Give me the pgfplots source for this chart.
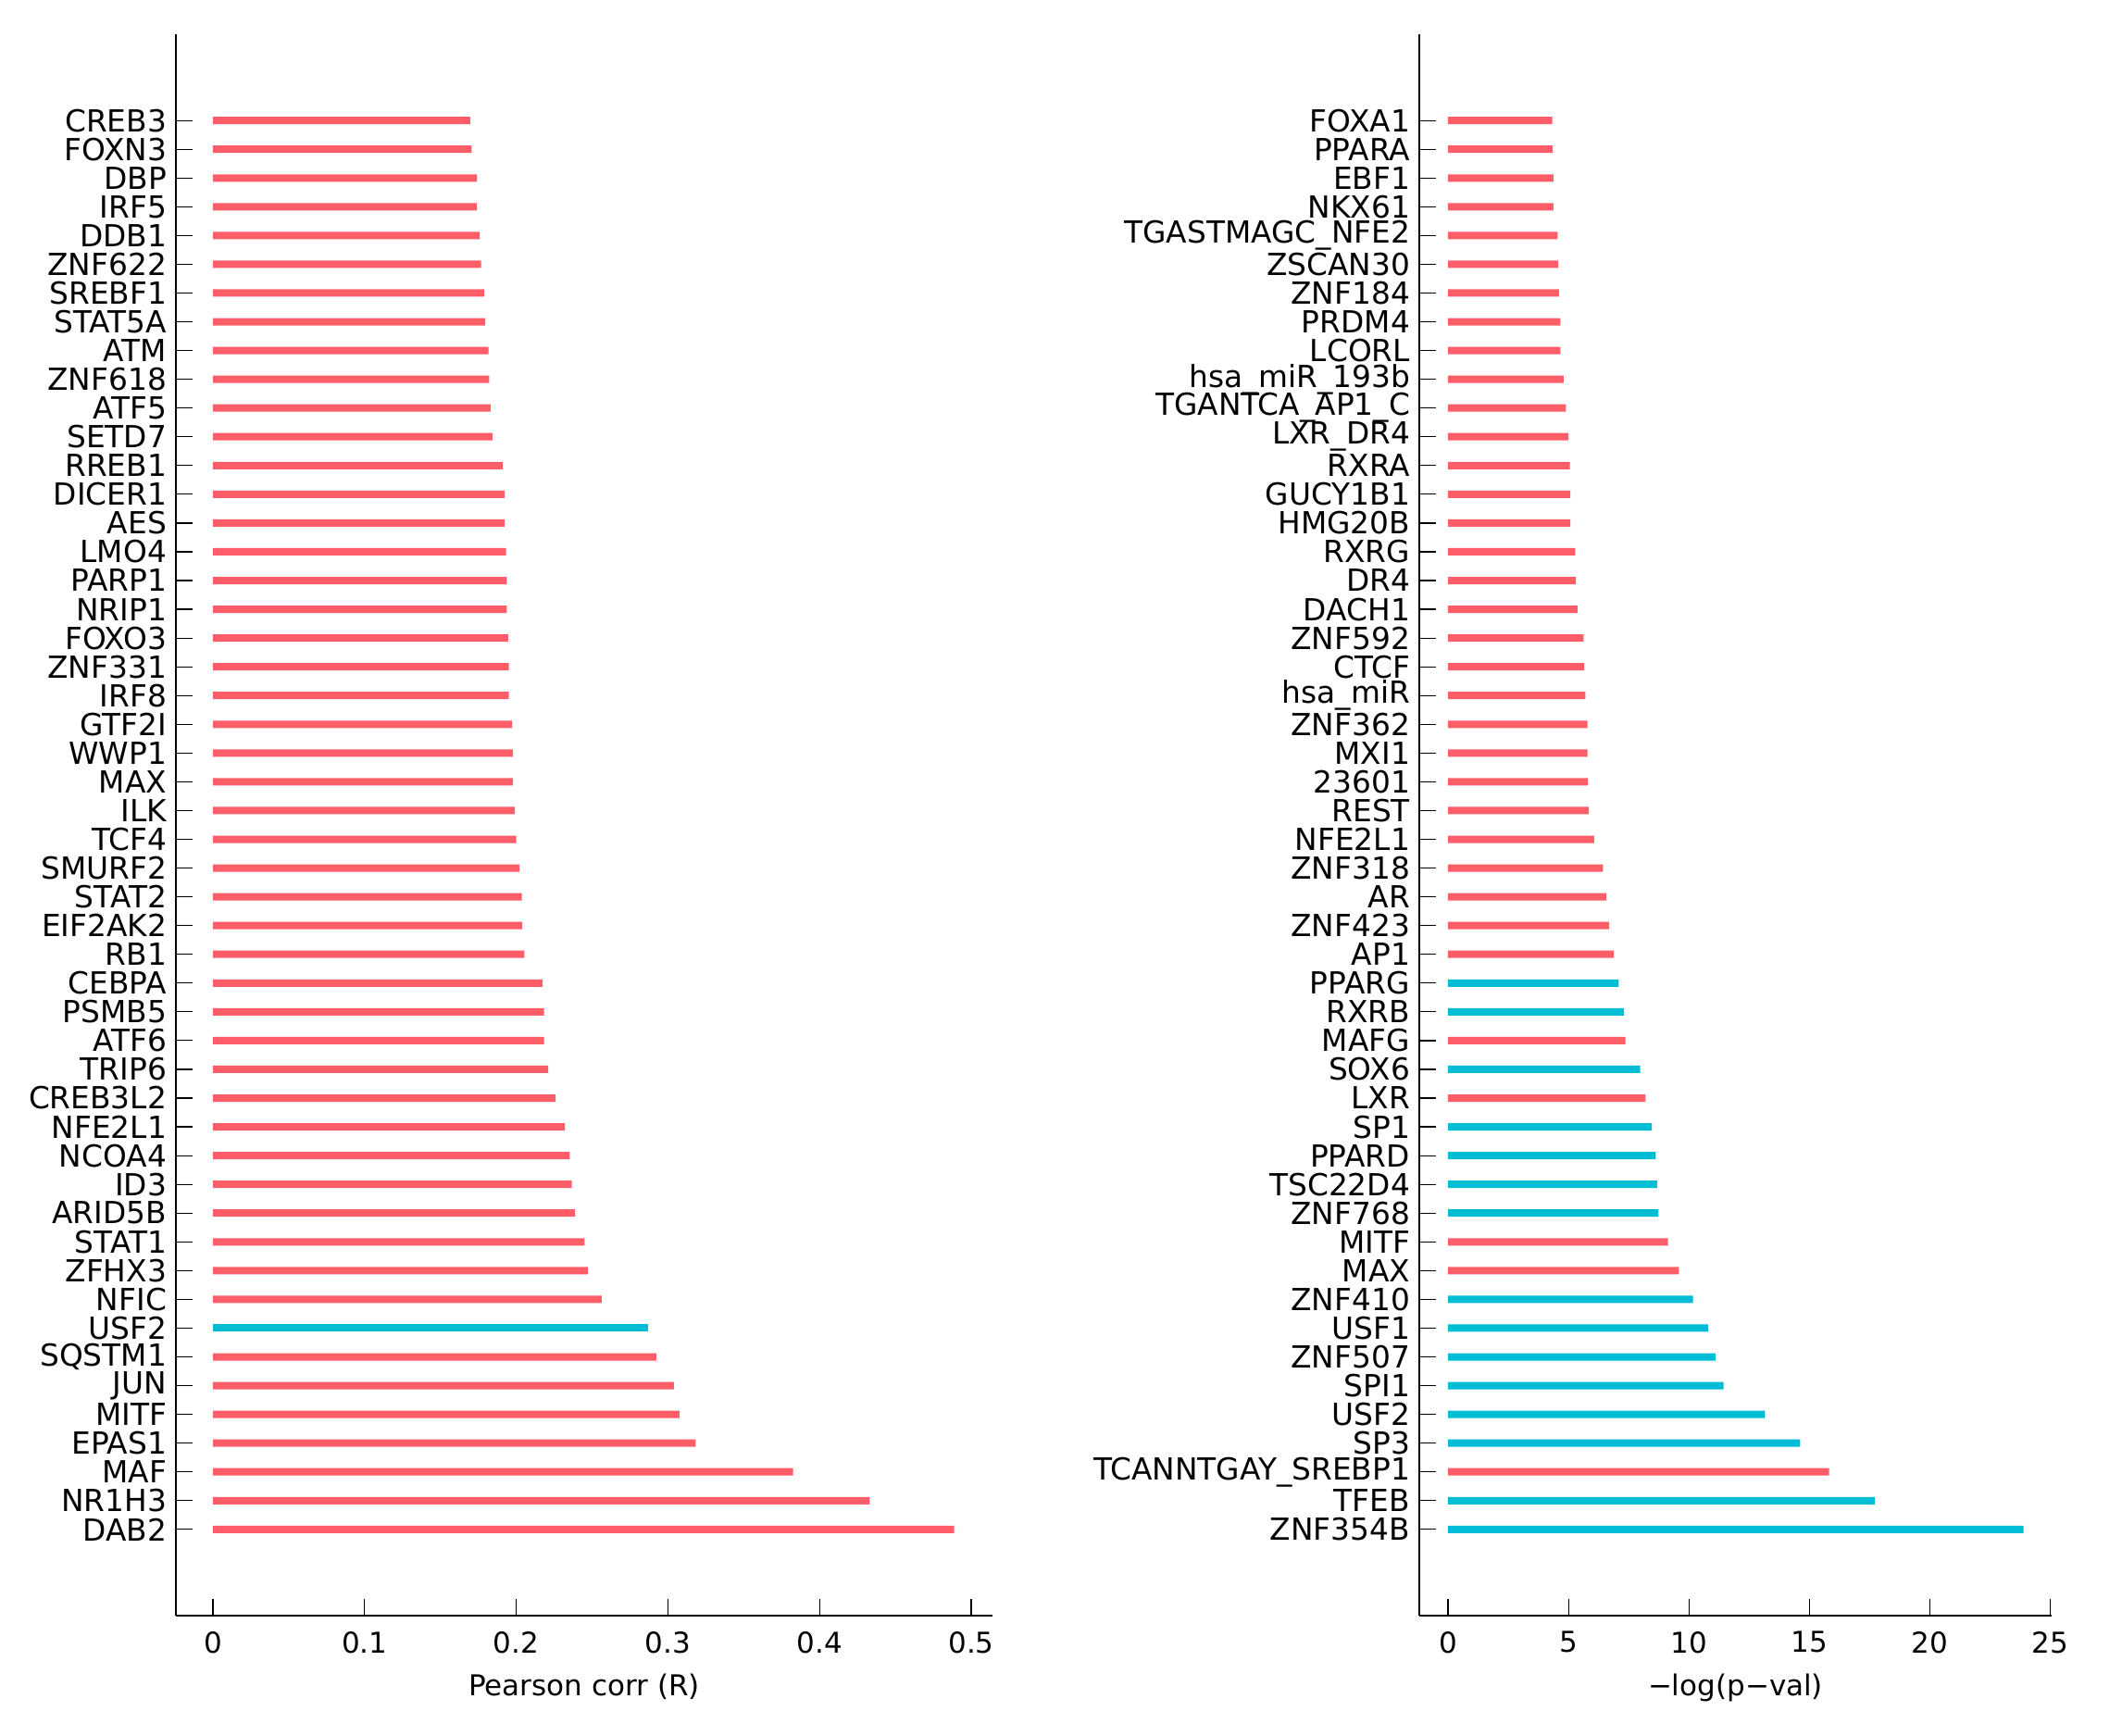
\documentclass[border=0pt]{standalone}
\usepackage{fontspec}
\setmainfont{DejaVu Sans}
\usepackage{pgfplots}
\pgfplotsset{compat=1.18}

\definecolor{barred}{RGB}{255,94,105}
\definecolor{barcyan}{RGB}{0,189,214}

\pgfplotsset{
  tfpanel/.style={
    scale only axis,
    height=854bp,
    ymin=-2, ymax=53,
    axis x line*=bottom,
    axis y line*=left,
    axis line style={line width=0.6bp},
    tick style={line width=0.6bp, black},
    tick align=inside,
    major tick length=9bp,
    ytick={1,...,50},
    /pgf/number format/assume math mode=true,
    xticklabel style={yshift=-5bp},
    yticklabel style={xshift=-1.5bp, font=\fontsize{16.4bp}{19bp}\selectfont},
    xlabel style={yshift=-4.5bp},
  },
  hbar/.style={xbar, bar width=4bp, bar shift=0pt, draw=none, fill=#1},
}

\begin{document}
\begin{tikzpicture}[font=\fontsize{15.5bp}{18bp}\selectfont]
\path[use as bounding box] (0,0) rectangle (1146bp,937.5bp);

% left panel: Pearson correlation
\begin{axis}[tfpanel,
  at={(95bp,65bp)}, anchor=south west,
  width=441bp,
  xmin=-0.0244, xmax=0.514,
  xtick={0,0.1,0.2,0.3,0.4,0.5},
  xlabel={Pearson corr (R)},
  yticklabels={DAB2,NR1H3,MAF,EPAS1,MITF,JUN,SQSTM1,USF2,NFIC,ZFHX3,STAT1,ARID5B,ID3,NCOA4,NFE2L1,CREB3L2,TRIP6,ATF6,PSMB5,CEBPA,RB1,EIF2AK2,STAT2,SMURF2,TCF4,ILK,MAX,WWP1,GTF2I,IRF8,ZNF331,FOXO3,NRIP1,PARP1,LMO4,AES,DICER1,RREB1,SETD7,ATF5,ZNF618,ATM,STAT5A,SREBF1,ZNF622,DDB1,IRF5,DBP,FOXN3,CREB3},
]
\addplot[hbar=barred] coordinates {
  (0.4888,1) (0.4330,2) (0.3826,3) (0.3183,4) (0.3076,5) (0.3040,6) (0.2924,7)
  (0.2563,9) (0.2473,10) (0.2451,11) (0.2388,12) (0.2366,13) (0.2353,14)
  (0.2321,15) (0.2259,16) (0.2210,17) (0.2183,18) (0.2183,19) (0.2174,20)
  (0.2054,21) (0.2040,22) (0.2036,23) (0.2022,24) (0.2000,25) (0.1991,26)
  (0.1978,27) (0.1978,28) (0.1973,29) (0.1951,30) (0.1951,31) (0.1946,32)
  (0.1938,33) (0.1938,34) (0.1933,35) (0.1924,36) (0.1924,37) (0.1911,38)
  (0.1844,39) (0.1830,40) (0.1821,41) (0.1817,42) (0.1795,43) (0.1790,44)
  (0.1768,45) (0.1759,46) (0.1741,47) (0.1741,48) (0.1705,49) (0.1696,50)
};
\addplot[hbar=barcyan] coordinates {(0.2871,8)};
\end{axis}

% right panel: enrichment p-values
\begin{axis}[tfpanel,
  at={(766.5bp,65bp)}, anchor=south west,
  width=341.5bp,
  xmin=-1.19, xmax=25.05,
  xtick={0,5,10,15,20,25},
  xlabel={−log(p−val)},
  yticklabels={ZNF354B,TFEB,TCANNTGAY\_SREBP1,SP3,USF2,SPI1,ZNF507,USF1,ZNF410,MAX,MITF,ZNF768,TSC22D4,PPARD,SP1,LXR,SOX6,MAFG,RXRB,PPARG,AP1,ZNF423,AR,ZNF318,NFE2L1,REST,23601,MXI1,ZNF362,hsa\_miR,CTCF,ZNF592,DACH1,DR4,RXRG,HMG20B,GUCY1B1,RXRA,LXR\_DR4,TGANTCA\_AP1\_C,hsa\_miR\_193b,LCORL,PRDM4,ZNF184,ZSCAN30,TGASTMAGC\_NFE2,NKX61,EBF1,PPARA,FOXA1},
]
\addplot[hbar=barred] coordinates {
  (15.81,3) (9.58,10) (9.13,11) (8.20,16) (7.36,18)
  (6.88,21) (6.69,22) (6.57,23) (6.43,24) (6.07,25) (5.84,26) (5.81,27)
  (5.79,28) (5.79,29) (5.70,30) (5.65,31) (5.62,32) (5.37,33) (5.31,34)
  (5.28,35) (5.08,36) (5.08,37) (5.06,38) (5.00,39) (4.89,40) (4.80,41)
  (4.66,42) (4.66,43) (4.61,44) (4.58,45) (4.55,46) (4.38,47) (4.38,48)
  (4.35,49) (4.33,50)
};
\addplot[hbar=barcyan] coordinates {
  (23.88,1) (17.72,2) (14.61,4) (13.15,5) (11.43,6) (11.10,7) (10.79,8)
  (10.17,9) (8.74,12) (8.68,13) (8.62,14) (8.46,15) (7.98,17) (7.30,19)
  (7.08,20)
};
\end{axis}
\end{tikzpicture}
\end{document}
